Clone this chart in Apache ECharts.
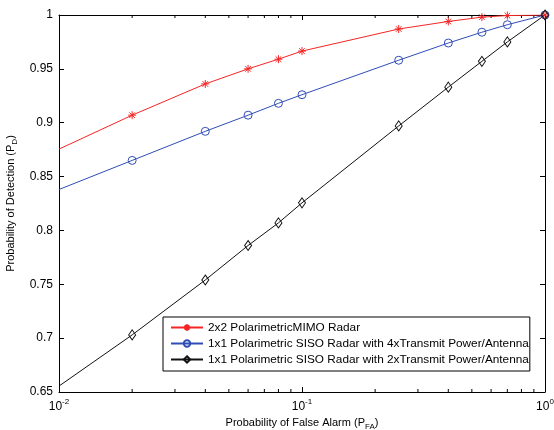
<!DOCTYPE html>
<head>
    <meta charset="utf-8">
    <title>ECharts</title>
</head>
<body style="margin:0">
    <div id="main" style="width:554px;height:430px"></div>
    <script src="https://cdn.jsdelivr.net/npm/echarts@6/dist/echarts.min.js"></script>
    <script type="text/javascript">
        // 虚警概率 (x)
        var pfa = [0.01, 0.02, 0.04, 0.06, 0.08, 0.1, 0.25, 0.4, 0.55, 0.7, 1];
        // 检测概率 (y)
        var mimo2x2 = [0.8755, 0.907, 0.936, 0.950, 0.959, 0.9665, 0.987, 0.994, 0.998, 0.9995, 1];
        var siso4x = [0.838, 0.865, 0.892, 0.907, 0.918, 0.926, 0.958, 0.974, 0.984, 0.991, 1];
        var siso2x = [0.6555, 0.703, 0.754, 0.786, 0.807, 0.8256, 0.897, 0.933, 0.957, 0.975, 1];
        var names = [
            '2x2 PolarimetricMIMO Radar',
            '1x1 Polarimetric SISO Radar with 4xTransmit Power/Antenna',
            '1x1 Polarimetric SISO Radar with 2xTransmit Power/Antenna'
        ];
        var minorX = [0.02, 0.03, 0.04, 0.05, 0.06, 0.07, 0.08, 0.09,
                      0.2, 0.3, 0.4, 0.5, 0.6, 0.7, 0.8, 0.9];

        var font = 'Liberation Sans, Arial, Helvetica, sans-serif';
        var starPath = 'path://M5,0L5,10M0,5L10,5M1.5,1.5L8.5,8.5M1.5,8.5L8.5,1.5';

        function pts(ys) {
            return pfa.map(function (x, i) {
                // 第一个点只画线不画标记
                return i === 0 ? { value: [x, ys[i]], symbol: 'none' } : [x, ys[i]];
            });
        }

        var myChart = echarts.init(document.getElementById('main'));

        var sup = { fontSize: 8, padding: [0, 0, 9, 0], color: '#000', fontFamily: font };
        var sub = { fontSize: 8, padding: [7, 0, 0, 0], color: '#000', fontFamily: font };

        var option = {
            animation: false,
            textStyle: { fontFamily: font },
            grid: { left: 59, right: 9, top: 15, bottom: 38, outerBoundsMode: 'none', containLabel: false },
            legend: {
                data: names,
                orient: 'vertical',
                left: 163,
                top: 317,
                itemWidth: 32,
                itemHeight: 8,
                itemGap: 3,
                padding: [4, 1, 5, 7],
                backgroundColor: '#fff',
                borderColor: '#000',
                borderWidth: 1,
                textStyle: { fontSize: 11.8, lineHeight: 13, color: '#000', fontFamily: font }
            },
            xAxis: [{
                type: 'log',
                logBase: 10,
                min: 0.01,
                max: 1,
                name: '{m|Probability of False Alarm (P}{s|FA}{m|)}',
                nameLocation: 'middle',
                nameGap: 18,
                nameTextStyle: {
                    rich: { m: { fontSize: 11, color: '#000', fontFamily: font }, s: sub }
                },
                axisLine: { lineStyle: { color: '#000', width: 1 } },
                axisTick: { inside: true, length: 5, lineStyle: { color: '#000' } },
                splitLine: { show: false },
                axisLabel: {
                    margin: 6,
                    formatter: function (v) {
                        return '{b|10}{s|' + Math.round(Math.log10(v)) + '}';
                    },
                    rich: { b: { fontSize: 12, color: '#000', fontFamily: font }, s: sup }
                }
            }, {
                type: 'log',
                logBase: 10,
                min: 0.01,
                max: 1,
                position: 'top',
                axisLine: { lineStyle: { color: '#000', width: 1 } },
                axisTick: { inside: true, length: 5, lineStyle: { color: '#000' } },
                axisLabel: { show: false },
                splitLine: { show: false }
            }],
            yAxis: [{
                type: 'value',
                min: 0.65,
                max: 1,
                interval: 0.05,
                name: '{m|Probability of Detection (P}{s|D}{m|)}',
                nameLocation: 'middle',
                nameGap: 34,
                nameTextStyle: {
                    rich: { m: { fontSize: 11, color: '#000', fontFamily: font }, s: sub }
                },
                axisLine: { show: true, lineStyle: { color: '#000', width: 1 } },
                axisTick: { show: true, inside: true, length: 5, lineStyle: { color: '#000' } },
                splitLine: { show: false },
                axisLabel: {
                    fontSize: 12,
                    color: '#000',
                    margin: 6,
                    formatter: function (v) { return String(+v.toFixed(2)); }
                }
            }, {
                type: 'value',
                min: 0.65,
                max: 1,
                interval: 0.05,
                position: 'right',
                axisLine: { show: true, lineStyle: { color: '#000', width: 1 } },
                axisTick: { show: true, inside: true, length: 5, lineStyle: { color: '#000' } },
                axisLabel: { show: false },
                splitLine: { show: false }
            }],
            series: [{
                // 对数轴次刻度
                type: 'custom',
                silent: true,
                clip: false,
                data: minorX,
                encode: { x: 0 },
                renderItem: function (params, api) {
                    var b = api.coord([api.value(0), 0.65]);
                    var t = api.coord([api.value(0), 1]);
                    var st = { stroke: '#000', lineWidth: 1 };
                    return {
                        type: 'group',
                        children: [
                            { type: 'line', shape: { x1: b[0], y1: b[1], x2: b[0], y2: b[1] - 3 }, style: st },
                            { type: 'line', shape: { x1: t[0], y1: t[1], x2: t[0], y2: t[1] + 3 }, style: st }
                        ]
                    };
                }
            }, {
                name: names[0],
                type: 'line',
                data: pts(mimo2x2),
                symbol: starPath,
                symbolSize: 8,
                lineStyle: { color: '#f52525', width: 1 },
                itemStyle: { color: '#f52525', borderColor: '#f52525', borderWidth: 1 }
            }, {
                name: names[1],
                type: 'line',
                data: pts(siso4x),
                symbol: 'circle',
                symbolSize: 8,
                lineStyle: { color: '#2f4db5', width: 1 },
                itemStyle: { color: 'rgba(255,255,255,0)', borderColor: '#2f4db5', borderWidth: 1 }
            }, {
                name: names[2],
                type: 'line',
                data: pts(siso2x),
                symbol: 'diamond',
                symbolSize: [7, 10],
                lineStyle: { color: '#111', width: 1 },
                itemStyle: { color: 'rgba(255,255,255,0)', borderColor: '#111', borderWidth: 1 }
            }]
        };

        myChart.setOption(option);
    </script>
</body>
